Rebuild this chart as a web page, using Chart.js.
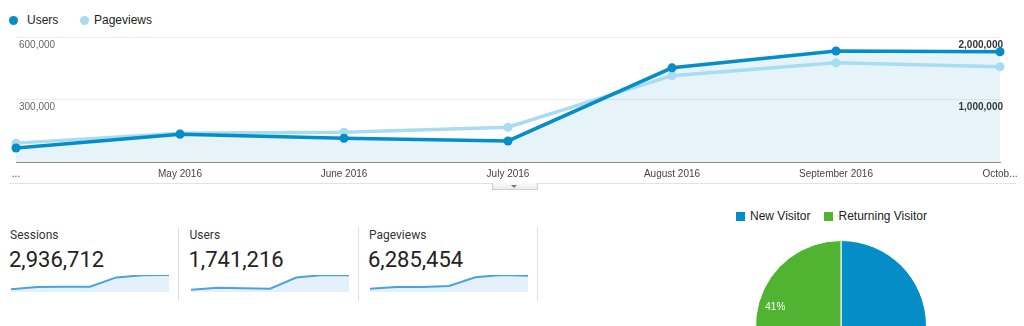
<!DOCTYPE html>
<html>
<head>
<meta charset="utf-8">
<script src="https://cdn.jsdelivr.net/npm/chart.js@4.4.0/dist/chart.umd.min.js"></script>
<style>
    html, body { margin: 0; padding: 0; width: 1024px; height: 326px; overflow: hidden; background: #fff; font-family: Arial, "Liberation Sans", sans-serif; }
    .abs { position: absolute; }
    .legend { top: 13px; font-size: 12px; color: #222; line-height: 14px; white-space: nowrap; }
    .dot { position: absolute; top: 16px; width: 9px; height: 9px; border-radius: 50%; }
    .metricName { font-family: Roboto, Arial, sans-serif; font-size: 12px; color: #333; line-height: 14px; }
    .metricTotal { font-family: Roboto, Arial, sans-serif; font-size: 22px; color: #222; line-height: 24px; }
    .sep { width: 1px; background: #e0e0e0; top: 227px; height: 74px; }
    .pieKey { top: 209px; font-size: 12px; color: #222; line-height: 14px; white-space: nowrap; }
    .sq { display: inline-block; width: 9px; height: 9px; margin-right: 5px; vertical-align: -1px; }
</style>
</head>
<body>

<div class="dot" style="left:9px;background:#058dc7"></div>
<div class="abs legend" id="lgUsers" style="left:27px"></div>
<div class="dot" style="left:80px;background:#a8dcf2"></div>
<div class="abs legend" id="lgPageviews" style="left:94px"></div>

<div class="abs" style="left:0;top:0;width:1024px;height:188px"><canvas id="trend"></canvas></div>

<div class="abs" style="left:10px;top:183px;width:1006px;height:1px;background:#e2e2e2"></div>
<div class="abs" style="left:492px;top:183px;width:44px;height:6px;border:1px solid #cfcfcf;border-top:none;background:linear-gradient(#fbfbfb,#ececec)"></div>
<div class="abs" style="left:511px;top:185px;width:0;height:0;border-left:3px solid transparent;border-right:3px solid transparent;border-top:3px solid #777"></div>

<div id="summary"></div>

<div class="abs pieKey" id="pieKeys" style="left:736px"></div>
<div class="abs" style="left:741px;top:226px;width:200px;height:200px"><canvas id="visitors"></canvas></div>

<script>
const months = ['...', 'May 2016', 'June 2016', 'July 2016', 'August 2016', 'September 2016', 'Octob...'];
const users = [67000, 133000, 114000, 101000, 452000, 533000, 529000];
const pageviews = [302000, 460000, 476000, 556000, 1381000, 1587000, 1524000];
const sessions = [124000, 218000, 230000, 232000, 645000, 737000, 750000];
const usersTicks = [0, 300000, 600000];
const pageviewTicks = [0, 1000000, 2000000];

const summaryNames = ['Sessions', 'Users', 'Pageviews'];
const summaryTotals = ['2,936,712', '1,741,216', '6,285,454'];

const visitorTypes = ['New Visitor', 'Returning Visitor'];
const visitorShare = [59, 41];

const usersColor = '#058dc7';
const pageviewsColor = '#a8dcf2';
const visitorColors = ['#058dc7', '#50b432'];

document.getElementById('lgUsers').textContent = 'Users';
document.getElementById('lgPageviews').textContent = 'Pageviews';

const fmt = v => v === 0 ? '' : v.toLocaleString('en-US');

new Chart(document.getElementById('trend'), {
    type: 'line',
    data: {
        labels: months,
        datasets: [{
            label: 'Users',
            data: users,
            yAxisID: 'y',
            borderColor: usersColor,
            backgroundColor: 'rgba(5,141,199,0.1)',
            fill: 'origin',
            borderWidth: 3.5,
            pointRadius: 4.5,
            pointBorderWidth: 0,
            pointBackgroundColor: usersColor,
            tension: 0,
            clip: 8
        }, {
            label: 'Pageviews',
            data: pageviews,
            yAxisID: 'y1',
            borderColor: pageviewsColor,
            fill: false,
            borderWidth: 3.5,
            pointRadius: 4.5,
            pointBorderWidth: 0,
            pointBackgroundColor: pageviewsColor,
            tension: 0,
            clip: 8
        }]
    },
    options: {
        responsive: true,
        maintainAspectRatio: false,
        animation: false,
        layout: { padding: { top: 37, left: 10, right: 18, bottom: 2 } },
        plugins: {
            legend: { display: false },
            tooltip: { enabled: false },
            filler: { drawTime: 'beforeDatasetsDraw' }
        },
        scales: {
            x: {
                grid: { display: false, drawTicks: false },
                border: { color: '#8a8a8a', width: 1 },
                ticks: { padding: 6, color: '#444', font: { size: 10, family: 'Arial' }, maxRotation: 0, autoSkip: false }
            },
            y: {
                position: 'left',
                min: 0,
                max: 600000,
                afterBuildTicks: axis => { axis.ticks = usersTicks.map(v => ({ value: v })); },
                grid: { drawTicks: false, color: c => c.tick && c.tick.value === 0 ? 'rgba(0,0,0,0)' : '#ececec' },
                border: { display: false },
                ticks: { mirror: true, padding: 3, labelOffset: 8, color: '#666', font: { size: 10, family: 'Arial' }, callback: fmt }
            },
            y1: {
                position: 'right',
                min: 0,
                max: 2000000,
                afterBuildTicks: axis => { axis.ticks = pageviewTicks.map(v => ({ value: v })); },
                grid: { display: false, drawTicks: false },
                border: { display: false },
                ticks: { mirror: true, padding: 3, labelOffset: 8, color: '#333', font: { size: 10, weight: 'bold', family: 'Arial' }, callback: fmt }
            }
        }
    }
});

// summary boxes with sparklines
const sparkSeries = [sessions, users, pageviews];
const summary = document.getElementById('summary');
summaryNames.forEach((name, i) => {
    const left = 10 + i * 179.5;
    summary.insertAdjacentHTML('beforeend',
        `<div class="abs metricName" style="left:${left}px;top:228px">${name}</div>` +
        `<div class="abs metricTotal" style="left:${left - 1}px;top:248px">${summaryTotals[i]}</div>` +
        `<div class="abs" style="left:${left + 1}px;top:275px;width:158px;height:17px"><canvas id="spark${i}"></canvas></div>` +
        `<div class="abs sep" style="left:${178 + i * 179.5}px"></div>`);
});

sparkSeries.forEach((series, i) => {
    new Chart(document.getElementById('spark' + i), {
        type: 'line',
        data: {
            labels: months,
            datasets: [{
                data: series,
                borderColor: '#4ba3dc',
                backgroundColor: '#e4f1fa',
                fill: 'origin',
                borderWidth: 2,
                pointRadius: 0,
                tension: 0,
                clip: 2
            }]
        },
        options: {
            responsive: true,
            maintainAspectRatio: false,
            animation: false,
            layout: { padding: 0 },
            plugins: { legend: { display: false }, tooltip: { enabled: false } },
            scales: {
                x: { display: false },
                y: { display: false, min: 0, max: Math.max(...series) }
            }
        }
    });
});

// visitor pie
document.getElementById('pieKeys').innerHTML = visitorTypes.map((t, i) =>
    `<span style="margin-right:${i === 0 ? 14 : 0}px"><span class="sq" style="background:${visitorColors[i]}"></span>${t}</span>`
).join('');

const sliceLabels = {
    id: 'sliceLabels',
    afterDatasetsDraw(chart) {
        const ctx = chart.ctx;
        const meta = chart.getDatasetMeta(0);
        ctx.save();
        ctx.fillStyle = '#fff';
        ctx.font = '10px Arial';
        ctx.textAlign = 'center';
        ctx.textBaseline = 'middle';
        meta.data.forEach((arc, i) => {
            const mid = (arc.startAngle + arc.endAngle) / 2;
            const r = arc.outerRadius * 0.8;
            ctx.fillText(visitorShare[i] + '%', arc.x + Math.cos(mid) * r, arc.y + Math.sin(mid) * r);
        });
        ctx.restore();
    }
};

new Chart(document.getElementById('visitors'), {
    type: 'pie',
    data: {
        labels: visitorTypes,
        datasets: [{
            data: visitorShare,
            backgroundColor: visitorColors,
            borderColor: '#fff',
            borderWidth: 1
        }]
    },
    options: {
        responsive: true,
        maintainAspectRatio: false,
        animation: false,
        layout: { padding: 14 },
        plugins: { legend: { display: false }, tooltip: { enabled: false } }
    },
    plugins: [sliceLabels]
});
</script>
</body>
</html>
